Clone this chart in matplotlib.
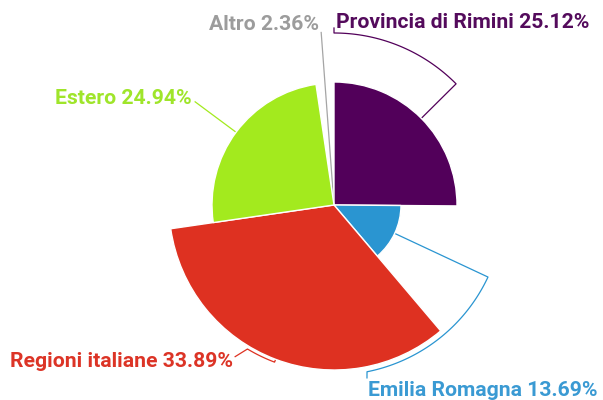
import numpy as np
import matplotlib
matplotlib.use("Agg")
import matplotlib.pyplot as plt

# Dati: quota percentuale (angolo) e raggio di ogni spicchio
categorie = ["Provincia di Rimini", "Emilia Romagna", "Regioni italiane", "Estero", "Altro"]
percentuali = [25.12, 13.69, 33.89, 24.94, 2.36]
raggi = [123, 67, 165, 122, 0]

colori = ["#52005a", "#2a95d1", "#de3121", "#a3ea1e", "#a5a5a5"]
colori_testo = ["#540b5c", "#3a9ad3", "#dc3426", "#9fe52a", "#9c9c9c"]

# Linee guida: raggio dell'arco, angolo finale, punto finale (angolo, raggio)
raggio_guida = [172, 170, 168, 173, 173]
angolo_arco = [0, 168.8, 211.0, None, None]
fine_guida = [(0, 177), (169.2, 176), (213.1, 181), (None, 173), (None, 173)]
allineamento = ["left", "left", "right", "right", "right"]
spostamento = [(2, 0), (1, -18), (-2, -10), (-4, -2), (-2, 2)]

plt.rcParams["font.family"] = ["Roboto", "DejaVu Sans"]

fig = plt.figure(figsize=(6.03, 4.0), dpi=100)
# asse polare centrato nel punto (334, 205) px, 1 unita = 1 px
ax = fig.add_axes([134 / 603, -5 / 400, 400 / 603, 400 / 400], projection="polar")
ax.set_theta_zero_location("N")
ax.set_theta_direction(-1)
ax.set_ylim(0, 200)
ax.axis("off")

ampiezze = np.radians(np.array(percentuali) * 3.6)
inizi = np.concatenate([[0], np.cumsum(ampiezze)[:-1]])
centri = inizi + ampiezze / 2

ax.bar(centri, raggi, width=ampiezze, bottom=0, color=colori,
       edgecolor="white", linewidth=1, align="center", zorder=3)

for i, nome in enumerate(categorie):
    mid = centri[i]
    r = raggio_guida[i]
    th = [mid, mid]
    rr = [0, r]
    if angolo_arco[i] is not None:
        arco = np.linspace(mid, np.radians(angolo_arco[i]), 60)
        th += list(arco)
        rr += [r] * len(arco)
    a_fine, r_fine = fine_guida[i]
    a_fine = mid if a_fine is None else np.radians(a_fine)
    th.append(a_fine)
    rr.append(r_fine)
    ax.plot(th, rr, color=colori[i], linewidth=0.9, zorder=2, clip_on=False)

    etichetta = f"{nome} {percentuali[i]:.2f}%"
    ax.annotate(etichetta, xy=(a_fine, r_fine), xytext=spostamento[i],
                textcoords="offset pixels", ha=allineamento[i], va="baseline",
                fontsize=15.2, fontweight="bold", color=colori_testo[i],
                annotation_clip=False)

plt.savefig("out.png", dpi=100)
